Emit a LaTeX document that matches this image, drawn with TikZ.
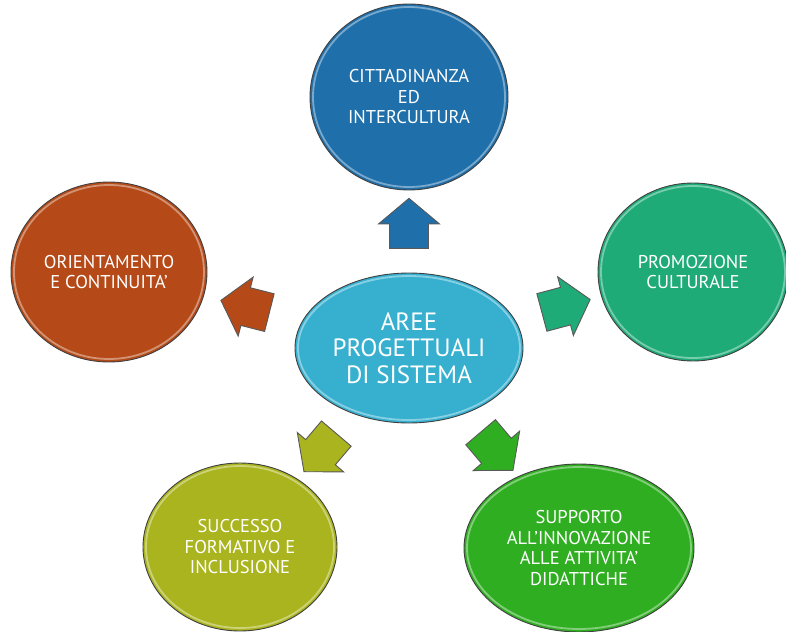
\documentclass[tikz,border=0pt]{standalone}
\usepackage{fontspec}
\setmainfont{PT Sans}
\usetikzlibrary{shapes.geometric,shapes.arrows,calc}
\definecolor{cCentro}{RGB}{55,176,208}
\definecolor{cBlu}{RGB}{31,111,170}
\definecolor{cArancio}{RGB}{181,74,24}
\definecolor{cTeal}{RGB}{31,171,120}
\definecolor{cOliva}{RGB}{169,180,30}
\definecolor{cVerde}{RGB}{48,174,34}
\begin{document}
\begin{tikzpicture}[x=1pt,y=-1pt,line width=0.9pt,
  area/.style={ellipse,draw=black!75,inner sep=0pt,align=center,text=white,
               font=\fontsize{18.5}{20.5}\selectfont,
               path picture={\draw[white,opacity=.4,line width=1.8pt]
                 let \p1=(path picture bounding box.north east),
                     \p2=(path picture bounding box.center) in
                 (\p2) ellipse ({\x1-\x2-3pt} and {\y1-\y2-3pt});}},
  blk/.style={single arrow,draw=black!65,inner xsep=0pt,inner ysep=19pt,
              single arrow head extend=11pt,single arrow tip angle=100,
              minimum height=50pt,sloped,allow upside down}]
  \useasboundingbox (0,0) rectangle (786,631);
  \node[area,fill=cCentro,minimum width=228pt,minimum height=150pt,
        font=\fontsize{25}{26.5}\selectfont] (c0) at (409,348)
    {AREE\\PROGETTUALI\\DI SISTEMA};
  \node[area,fill=cBlu,minimum width=198pt,minimum height=186pt] (a1) at (409,97)
    {CITTADINANZA\\ED\\INTERCULTURA};
  \node[area,fill=cArancio,minimum width=196pt,minimum height=180pt] (a2) at (109,272)
    {ORIENTAMENTO\\E CONTINUITA’};
  \node[area,fill=cTeal,minimum width=190pt,minimum height=178pt] (a3) at (693,272)
    {PROMOZIONE\\CULTURALE};
  \node[area,fill=cOliva,minimum width=194pt,minimum height=168pt] (a4) at (240,547)
    {SUCCESSO\\FORMATIVO E\\INCLUSIONE};
  \node[area,fill=cVerde,minimum width=230pt,minimum height=168pt] (a5) at (579,548)
    {SUPPORTO\\ALL’INNOVAZIONE\\ALLE ATTIVITA’\\DIDATTICHE};
  \path (c0) -- node[blk,fill=cBlu] (f1) {} (a1);
  \path (c0) -- node[blk,fill=cArancio] (f2) {} (a2);
  \path (c0) -- node[blk,fill=cTeal] (f3) {} (a3);
  \path (c0) -- node[blk,fill=cOliva] (f4) {} (a4);
  \path (c0) -- node[blk,fill=cVerde] (f5) {} (a5);
\end{tikzpicture}
\end{document}
